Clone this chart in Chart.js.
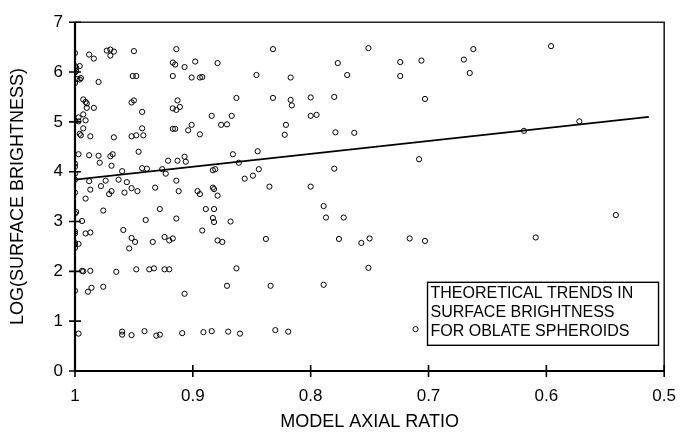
<!DOCTYPE html>
<html>
<head>
<meta charset="utf-8">
<script src="https://cdn.jsdelivr.net/npm/chart.js@4.4.0/dist/chart.umd.min.js"></script>
<style>
html,body{margin:0;padding:0;background:#fff;}
#wrap{position:relative;width:691px;height:438px;}
</style>
</head>
<body>
<div id="wrap"><canvas id="c" width="691" height="438"></canvas></div>
<script>
// ---- data ----
const axialRatio = [
1.000,0.988,0.984,0.973,0.970,0.967,0.970,0.950,0.914,0.917,0.915,0.907,0.898,0.879,1.000,0.999,0.996,1.000,0.999,0.998,
0.995,0.996,1.000,0.980,0.951,0.948,0.917,0.901,0.894,0.892,0.993,0.990,0.991,0.990,0.984,0.952,0.950,0.943,0.913,0.917,
0.914,0.911,0.884,0.997,0.993,0.991,1.000,0.997,0.993,0.943,0.917,0.915,0.904,0.901,0.894,0.996,0.995,0.987,0.967,0.952,
0.948,0.942,0.997,0.988,0.980,0.979,0.970,0.968,0.969,0.946,1.000,1.000,1.000,0.960,0.943,0.939,0.926,0.923,0.921,0.913,
0.907,0.906,0.883,0.881,1.000,0.988,0.974,0.963,0.956,0.978,0.987,0.969,0.971,0.958,0.952,0.947,0.932,0.914,0.912,0.896,
0.894,0.883,0.882,0.879,1.000,0.991,0.976,0.928,1.000,0.999,0.889,0.882,0.994,0.940,0.914,0.883,0.882,1.000,1.000,0.991,
0.987,0.959,0.892,0.879,0.952,0.949,0.934,0.924,0.920,0.917,1.000,1.000,1.000,0.997,0.954,0.994,0.993,0.987,0.965,0.948,
0.937,0.933,0.924,0.920,1.000,0.989,0.986,0.976,0.907,0.997,0.960,0.960,0.952,0.941,0.931,0.928,0.909,0.891,0.884,0.846,
0.832,0.817,0.777,0.769,0.863,0.832,0.817,0.816,0.800,0.780,0.867,0.876,0.871,0.821,0.800,0.795,0.822,0.779,0.763,0.866,
0.845,0.861,0.856,0.849,0.844,0.780,0.835,0.800,0.868,0.789,0.787,0.772,0.875,0.838,0.776,0.863,0.871,0.834,0.789,0.870,
0.860,0.830,0.819,0.751,0.724,0.724,0.706,0.703,0.670,0.662,0.665,0.708,0.757,0.750,0.716,0.703,0.751,0.711,0.596,0.619,
0.572,0.609,0.541
];
const logBrightness = [
6.38,6.35,6.27,6.43,6.45,6.41,6.33,6.42,6.46,6.19,6.15,6.10,6.21,6.18,6.12,6.09,6.12,5.99,6.02,5.86,
5.88,5.85,5.78,5.80,5.92,5.92,5.92,5.89,5.89,5.90,5.45,5.37,5.40,5.28,5.28,5.39,5.43,5.20,5.43,5.27,
5.24,5.30,5.12,5.09,5.15,5.03,5.02,5.01,4.87,4.87,4.86,4.86,4.83,4.94,4.75,4.76,4.73,4.71,4.69,4.71,
4.73,4.73,4.35,4.33,4.32,4.18,4.31,4.35,4.12,4.40,4.16,4.10,3.96,4.01,4.07,4.06,4.05,3.96,4.22,4.22,
4.30,4.20,4.03,4.05,3.84,3.81,3.82,3.84,3.79,3.71,3.64,3.61,3.55,3.58,3.67,3.61,3.68,3.82,3.61,3.61,
3.55,3.68,3.65,3.52,3.58,3.46,3.22,3.25,3.16,3.19,3.25,3.25,3.01,3.03,3.06,3.07,2.99,2.80,2.76,2.76,
2.78,2.83,2.82,2.62,2.67,2.59,2.59,2.69,2.62,2.66,2.57,2.54,2.47,2.55,2.46,2.01,2.00,2.01,1.99,2.04,
2.04,2.06,2.04,2.04,1.61,1.59,1.67,1.69,1.55,0.75,0.79,0.73,0.72,0.80,0.71,0.73,0.76,0.78,0.80,5.94,
6.46,5.89,6.18,5.94,5.48,5.48,5.44,5.33,5.49,5.50,5.12,4.94,4.95,4.94,5.12,5.14,4.74,4.79,4.78,4.35,
4.41,4.18,3.86,3.92,4.05,4.06,3.70,3.70,3.00,3.31,3.08,3.08,2.59,2.65,2.65,2.06,1.71,1.71,1.73,0.79,
0.75,0.82,0.79,6.48,6.20,5.92,6.23,5.46,6.25,6.46,5.98,4.25,2.57,2.66,2.66,2.61,2.07,0.84,6.52,4.82,
5.01,2.68,3.13
];
const trendX = [1.0, 0.513];
const trendY = [3.84, 5.10];
const xTicks = [1, 0.9, 0.8, 0.7, 0.6, 0.5];
const yTicks = [0, 1, 2, 3, 4, 5, 6, 7];
const noteLines = ['THEORETICAL TRENDS IN', 'SURFACE BRIGHTNESS', 'FOR OBLATE SPHEROIDS'];

const FONT = "'Liberation Sans', Arial, Helvetica, sans-serif";

const frame = {
  id: 'frame',
  afterDatasetsDraw(chart) {
    const {ctx, chartArea: a, scales: {x, y}} = chart;
    ctx.save();
    ctx.strokeStyle = '#222';
    ctx.lineWidth = 1.6;
    ctx.beginPath();
    ctx.moveTo(a.left, a.top); ctx.lineTo(a.right, a.top); ctx.lineTo(a.right, a.bottom);
    ctx.stroke();
    ctx.strokeStyle = '#000';
    ctx.lineWidth = 2.2;
    ctx.beginPath();
    ctx.moveTo(a.left, a.top); ctx.lineTo(a.left, a.bottom); ctx.lineTo(a.right, a.bottom);
    ctx.stroke();
    ctx.lineWidth = 1.6;
    ctx.beginPath();
    xTicks.forEach(v => { const px = x.getPixelForValue(v); ctx.moveTo(px, a.bottom - 6); ctx.lineTo(px, a.bottom + 6); });
    yTicks.forEach(v => { const py = y.getPixelForValue(v); ctx.moveTo(a.left - 6, py); ctx.lineTo(a.left + 6, py); });
    ctx.stroke();
    const bx = x.getPixelForValue(0.7) - 1, by = y.getPixelForValue(1.78);
    const bw = 231, bh = 63;
    ctx.fillStyle = '#fff';
    ctx.fillRect(bx, by, bw, bh);
    ctx.lineWidth = 1.4;
    ctx.strokeRect(bx, by, bw, bh);
    ctx.fillStyle = '#000';
    ctx.font = '16px ' + FONT;
    ctx.textBaseline = 'middle';
    ctx.textAlign = 'left';
    noteLines.forEach((t, i) => ctx.fillText(t, bx + 3, by + 11.5 + i * 19));
    ctx.restore();
  }
};

new Chart(document.getElementById('c'), {
  type: 'scatter',
  data: {
    datasets: [
      {
        type: 'line',
        data: trendX.map((v, i) => ({x: v, y: trendY[i]})),
        borderColor: '#000',
        borderWidth: 1.8,
        pointRadius: 0,
        fill: false,
        order: 2
      },
      {
        data: axialRatio.map((v, i) => ({x: v, y: logBrightness[i]})),
        pointStyle: 'circle',
        pointRadius: 2.6,
        borderColor: '#000',
        borderWidth: 1,
        backgroundColor: 'rgba(255,255,255,0)',
        order: 1
      }
    ]
  },
  options: {
    responsive: false,
    animation: false,
    events: [],
    layout: {padding: {left: 0, top: 14, right: 24, bottom: 0}},
    plugins: {legend: {display: false}, tooltip: {enabled: false}},
    scales: {
      x: {
        type: 'linear', reverse: true, min: 0.5, max: 1,
        afterBuildTicks(s) { s.ticks = xTicks.map(v => ({value: v})); },
        afterFit(s) { s.height = 67; },
        grid: {display: false, drawTicks: false},
        border: {display: false},
        ticks: {padding: 15, color: '#000', font: {family: FONT, size: 17}, maxRotation: 0,
                callback: v => String(v)},
        title: {display: true, text: 'MODEL AXIAL RATIO', color: '#000',
                font: {family: FONT, size: 18}, padding: {top: 0, bottom: 5.2}}
      },
      y: {
        type: 'linear', min: 0, max: 7,
        afterBuildTicks(s) { s.ticks = yTicks.map(v => ({value: v})); },
        afterFit(s) { s.width = 75; },
        grid: {display: false, drawTicks: false},
        border: {display: false},
        ticks: {padding: 12, color: '#000', font: {family: FONT, size: 17}},
        title: {display: true, text: 'LOG(SURFACE BRIGHTNESS)', color: '#000',
                font: {family: FONT, size: 18}, padding: {top: 7.2, bottom: 0}}
      }
    }
  },
  plugins: [frame]
});
</script>
</body>
</html>
